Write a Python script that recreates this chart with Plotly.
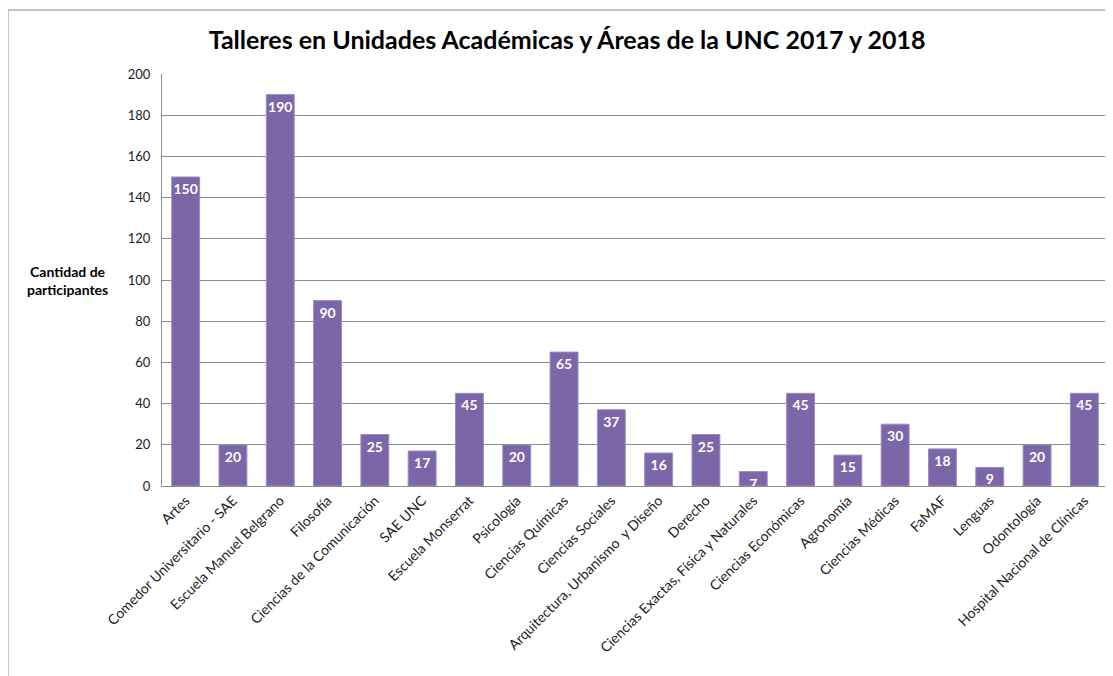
import plotly.graph_objects as go

categories = ["Artes", "Comedor Universitario - SAE", "Escuela Manuel Belgrano", "Filosofía",
              "Ciencias de la Comunicación", "SAE UNC", "Escuela Monserrat", "Psicología",
              "Ciencias Químicas", "Ciencias Sociales", "Arquitectura, Urbanismo  y Diseño",
              "Derecho", "Ciencias Exactas, Física y Naturales", "Ciencias Económicas",
              "Agronomía", "Ciencias Médicas", "FaMAF", "Lenguas", "Odontología",
              "Hospital Nacional de Clínicas"]
values = [150, 20, 190, 90, 25, 17, 45, 20, 65, 37, 16, 25, 7, 45, 15, 30, 18, 9, 20, 45]
y_ticks = [0, 20, 40, 60, 80, 100, 120, 140, 160, 180, 200]

FONT = "Lato"

fig = go.Figure(go.Bar(
    x=categories, y=values,
    marker=dict(color="#7b67a8", line=dict(color="#9a8cc0", width=1)),
    text=[str(v) for v in values],
    textposition="inside", insidetextanchor="end", textangle=0,
    textfont=dict(family=FONT, size=14, color="white", weight="bold"),
    cliponaxis=False,
))

fig.update_layout(
    width=1105, height=668,
    margin=dict(l=154, r=5, t=66, b=190),
    paper_bgcolor="white", plot_bgcolor="white",
    bargap=0.41,
    showlegend=False,
    uniformtext=dict(minsize=14, mode="show"),
    title=dict(text="<b>Talleres en Unidades Académicas y Áreas de la UNC 2017 y 2018</b>",
               x=0.506, xanchor="center", y=0.952, yanchor="middle",
               font=dict(family=FONT, size=25, color="black")),
    xaxis=dict(tickangle=-45, tickfont=dict(family=FONT, size=14, color="#222"),
               showline=True, linecolor="#8c8c8c", linewidth=1, showgrid=False, automargin=False),
    yaxis=dict(range=[0, 200], tickvals=y_ticks, tickfont=dict(family=FONT, size=13, color="#222"),
               showgrid=True, gridcolor="#8c8c8c", gridwidth=1, zeroline=False,
               showline=True, linecolor="#8c8c8c", ticklabelstandoff=8, automargin=False),
    annotations=[dict(text="<b>Cantidad de<br>participantes</b>", xref="paper", yref="paper",
                      x=-0.0994, y=0.5, showarrow=False, xanchor="center", yanchor="middle",
                      font=dict(family=FONT, size=14, color="black"))],
    shapes=[
        dict(type="line", xref="paper", yref="paper", x0=-0.1628, x1=-0.1628, y0=-0.5, y1=1.1553,
             line=dict(color="#8c8c8c", width=1)),
        dict(type="line", xref="paper", yref="paper", x0=-0.1628, x1=1.01, y0=1.1553, y1=1.1553,
             line=dict(color="#8c8c8c", width=1)),
    ],
)

fig.write_html("out.html")
